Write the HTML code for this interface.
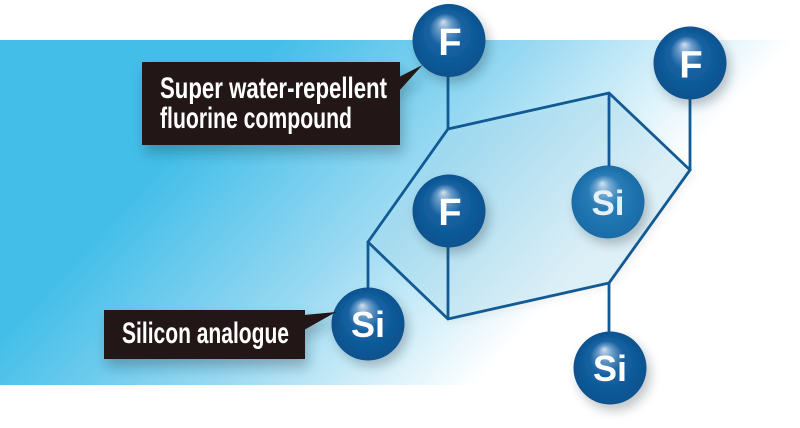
<!DOCTYPE html>
<html>
<head>
<meta charset="utf-8">
<style>
  html, body { margin:0; padding:0; background:#ffffff; }
  svg { display:block; }
</style>
</head>
<body>
<svg width="800" height="428" viewBox="0 0 800 428" xmlns="http://www.w3.org/2000/svg">
  <defs>
    <linearGradient id="bg" gradientUnits="userSpaceOnUse" x1="168" y1="156" x2="447" y2="415">
      <stop offset="0" stop-color="#42bee9"/>
      <stop offset="0.5" stop-color="#98d9f2"/>
      <stop offset="1" stop-color="#ffffff"/>
    </linearGradient>
    <radialGradient id="atom" cx="0.5" cy="0.5" r="0.5" fx="0.42" fy="0.24">
      <stop offset="0" stop-color="#d2dfee"/>
      <stop offset="0.18" stop-color="#6f9fcb"/>
      <stop offset="0.45" stop-color="#1a63a2"/>
      <stop offset="0.8" stop-color="#0b5896"/>
      <stop offset="1" stop-color="#0a528e"/>
    </radialGradient>
    <radialGradient id="atom2" cx="0.5" cy="0.5" r="0.5" fx="0.42" fy="0.24">
      <stop offset="0" stop-color="#cfe3f0"/>
      <stop offset="0.18" stop-color="#79acd3"/>
      <stop offset="0.45" stop-color="#2a7cb6"/>
      <stop offset="0.8" stop-color="#1d72ad"/>
      <stop offset="1" stop-color="#1a6ba6"/>
    </radialGradient>
    <filter id="sh" x="-40%" y="-40%" width="180%" height="180%">
      <feDropShadow dx="4" dy="6" stdDeviation="5" flood-color="#1a2a3a" flood-opacity="0.28"/>
    </filter>
    <filter id="bsh" x="-20%" y="-30%" width="140%" height="170%">
      <feDropShadow dx="3" dy="8" stdDeviation="6" flood-color="#1a2a3a" flood-opacity="0.3"/>
    </filter>
    <filter id="lsh" x="-20%" y="-20%" width="140%" height="140%">
      <feDropShadow dx="5" dy="4" stdDeviation="4" flood-color="#1a2a3a" flood-opacity="0.15"/>
    </filter>
  </defs>

  <!-- background band -->
  <rect x="0" y="40" width="800" height="345" fill="url(#bg)"/>

  <!-- hexagon plane -->
  <polygon points="448,129 609,93 690,170 609,283 448,319 368,242" fill="#a8dcf0" fill-opacity="0.32" stroke="none" filter="url(#lsh)"/>

  <!-- Si middle (seen through plane) -->
  <g filter="url(#sh)">
    <circle cx="608" cy="202" r="36.5" fill="url(#atom2)"/>
  </g>
  <text x="608" y="215" text-anchor="middle" font-family="'Liberation Sans', sans-serif" font-weight="bold" font-size="35" fill="#e4f1f9">Si</text>

  <polygon points="448,129 609,93 690,170 609,283 448,319 368,242" fill="none" stroke="#125a93" stroke-width="2.8" stroke-linejoin="miter"/>
  <line x1="609" y1="93" x2="609" y2="166" stroke="#125a93" stroke-width="2.8"/>

  <!-- bonds -->
  <g stroke="#125a93" stroke-width="2.8">
    <line x1="448" y1="129" x2="448" y2="70"/>
    <line x1="690" y1="170" x2="690" y2="92"/>
    <line x1="448" y1="319" x2="448" y2="240"/>
    <line x1="609" y1="283" x2="609" y2="340"/>
    <line x1="368" y1="242" x2="368" y2="295"/>
  </g>

  <!-- atoms -->
  <g filter="url(#sh)">
    <circle cx="449" cy="40.5" r="36.5" fill="url(#atom)"/>
    <circle cx="690" cy="63" r="36.5" fill="url(#atom)"/>
    <circle cx="449" cy="211" r="36.5" fill="url(#atom)"/>
    <circle cx="368" cy="324" r="36.5" fill="url(#atom)"/>
    <circle cx="610" cy="368" r="36.5" fill="url(#atom)"/>
  </g>
  <g font-family="'Liberation Sans', sans-serif" font-weight="bold" fill="#ffffff" text-anchor="middle">
    <text x="450" y="55" font-size="38">F</text>
    <text x="691" y="77.5" font-size="38">F</text>
    <text x="450" y="225" font-size="38">F</text>
    <text x="368" y="337" font-size="36">Si</text>
    <text x="610" y="381" font-size="36">Si</text>
  </g>

  <!-- label 1 -->
  <g filter="url(#bsh)">
    <rect x="142" y="62" width="258" height="83" fill="#231815"/>
    <polygon points="399,77 422.5,65 399,91" fill="#231815"/>
  </g>
  <g font-family="'Liberation Sans', sans-serif" font-weight="bold" font-size="30" fill="#ffffff">
    <text x="160" y="98" textLength="227" lengthAdjust="spacingAndGlyphs">Super water-repellent</text>
    <text x="160" y="128" textLength="192" lengthAdjust="spacingAndGlyphs">fluorine compound</text>
  </g>

  <!-- label 2 -->
  <g filter="url(#bsh)">
    <rect x="104" y="310" width="201" height="49" fill="#231815"/>
    <polygon points="304,315 336,312 304,330" fill="#231815"/>
  </g>
  <text x="122" y="343" textLength="167" lengthAdjust="spacingAndGlyphs" font-family="'Liberation Sans', sans-serif" font-weight="bold" font-size="30" fill="#ffffff">Silicon analogue</text>
</svg>
</body>
</html>
